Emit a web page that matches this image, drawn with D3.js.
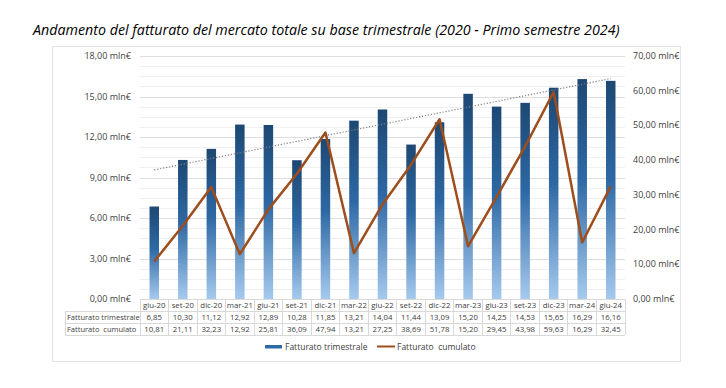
<!DOCTYPE html>
<html>
<head>
<meta charset="utf-8">
<script src="https://cdn.jsdelivr.net/npm/d3@7"></script>
<style>
  body { margin: 0; background: #fff; }
  svg { display: block; }
  text { font-family: "Open Sans", sans-serif; fill: #404040; }
</style>
</head>
<body>
<div id="chart"></div>
<script>
const categories = ['giu-20', 'set-20', 'dic-20', 'mar-21', 'giu-21', 'set-21', 'dic-21', 'mar-22', 'giu-22',
    'set-22', 'dic-22', 'mar-23', 'giu-23', 'set-23', 'dic-23', 'mar-24', 'giu-24']
const trimestrale = [6.85, 10.30, 11.12, 12.92, 12.89, 10.28, 11.85, 13.21, 14.04, 11.44, 13.09, 15.20, 14.25, 14.53, 15.65, 16.29, 16.16]
const cumulato = [10.81, 21.11, 32.23, 12.92, 25.81, 36.09, 47.94, 13.21, 27.25, 38.69, 51.78, 15.20, 29.45, 43.98, 59.63, 16.29, 32.45]
const leftTicks = [0, 3, 6, 9, 12, 15, 18]
const rightTicks = [0, 10, 20, 30, 40, 50, 60, 70]

const width = 726, height = 388
const margin = ({ top: 56, right: 101, bottom: 89, left: 140 })
const fmt = v => d3.format('.2f')(v).replace('.', ',')

const svg = d3.select('#chart').append('svg')
    .attr('width', width)
    .attr('height', height)

// title, sized to the width it has in the reference
const title = svg.append('text')
    .attr('x', 33).attr('y', 35)
    .attr('font-size', 14)
    .attr('font-style', 'italic')
    .style('fill', '#000')
    .text('Andamento del fatturato del mercato totale su base trimestrale (2020 - Primo semestre 2024)')
const tw = title.node().getComputedTextLength()
title.attr('font-size', 14 * 587 / tw)

// frame
svg.append('rect')
    .attr('x', 52.5).attr('y', 46.5)
    .attr('width', 628).attr('height', 315)
    .attr('fill', 'none')
    .attr('stroke', '#e3e3e3')

const x = d3.scaleBand()
    .domain(categories)
    .range([margin.left, width - margin.right])
const yL = d3.scaleLinear()
    .domain([0, 18])
    .range([height - margin.bottom, margin.top])
const yR = d3.scaleLinear()
    .domain([0, 70])
    .range([height - margin.bottom, margin.top])

// gridlines (major every 3, minor every 0.75)
svg.append('g')
    .selectAll('line')
    .data(d3.range(0.75, 18.01, 0.75))
    .join('line')
    .attr('x1', margin.left).attr('x2', width - margin.right)
    .attr('y1', d => Math.round(yL(d)) + 0.5).attr('y2', d => Math.round(yL(d)) + 0.5)
    .attr('stroke', d => d % 3 === 0 ? '#dedede' : '#efefef')

// axes labels
svg.append('g')
    .selectAll('text')
    .data(leftTicks)
    .join('text')
    .attr('x', 131).attr('y', d => yL(d) + 3)
    .attr('text-anchor', 'end')
    .attr('font-size', 9)
    .text(d => fmt(d) + ' mln€')
svg.append('g')
    .selectAll('text')
    .data(rightTicks)
    .join('text')
    .attr('x', 633).attr('y', d => yR(d) + 3)
    .attr('font-size', 9)
    .text(d => fmt(d) + ' mln€')

// bar gradient, dark at each bar's top
const grad = svg.append('defs').append('linearGradient')
    .attr('id', 'bargrad')
    .attr('x1', 0).attr('x2', 0)
    .attr('y1', 0).attr('y2', 1)
grad.append('stop').attr('offset', '0%').attr('stop-color', '#1d4873')
grad.append('stop').attr('offset', '45%').attr('stop-color', '#2d68a4')
grad.append('stop').attr('offset', '100%').attr('stop-color', '#a6caee')

const barW = 9.5
svg.append('g')
    .selectAll('rect')
    .data(trimestrale)
    .join('rect')
    .attr('x', (d, i) => x(categories[i]) + x.bandwidth() / 2 - barW / 2)
    .attr('y', d => yL(d))
    .attr('width', barW)
    .attr('height', d => yL(0) - yL(d))
    .attr('fill', 'url(#bargrad)')

// linear trend of trimestrale
const n = trimestrale.length
const mx = d3.mean(d3.range(n)), my = d3.mean(trimestrale)
const slope = d3.sum(trimestrale, (d, i) => (i - mx) * (d - my)) / d3.sum(d3.range(n), i => (i - mx) ** 2)
const icpt = my - slope * mx
svg.append('line')
    .attr('x1', x(categories[0]) + x.bandwidth() / 2)
    .attr('x2', x(categories[n - 1]) + x.bandwidth() / 2)
    .attr('y1', yL(icpt))
    .attr('y2', yL(icpt + slope * (n - 1)))
    .attr('stroke', '#7f7f7f')
    .attr('stroke-width', 1.2)
    .attr('stroke-dasharray', '1.2,1.8')

// cumulato line
const line = d3.line()
    .x((d, i) => x(categories[i]) + x.bandwidth() / 2)
    .y(d => yR(d))
svg.append('path')
    .datum(cumulato)
    .attr('fill', 'none')
    .attr('stroke', '#9e4d1c')
    .attr('stroke-width', 2.5)
    .attr('stroke-linejoin', 'round')
    .attr('d', line)

// data table
const y0 = yL(0)
const rowH = 12
const labelX = 65
const tbl = svg.append('g').attr('stroke', '#d9d9d9').attr('shape-rendering', 'crispEdges')
tbl.append('line').attr('x1', margin.left).attr('x2', width - margin.right).attr('y1', y0).attr('y2', y0)
;[1, 2, 3].forEach(r => {
    tbl.append('line').attr('x1', labelX).attr('x2', width - margin.right)
        .attr('y1', y0 + r * rowH).attr('y2', y0 + r * rowH)
})
tbl.selectAll('line.v')
    .data(categories.concat(['end']))
    .join('line')
    .attr('class', 'v')
    .attr('x1', d => d === 'end' ? width - margin.right : x(d))
    .attr('x2', d => d === 'end' ? width - margin.right : x(d))
    .attr('y1', y0).attr('y2', y0 + 3 * rowH)
tbl.append('line').attr('x1', labelX).attr('x2', labelX).attr('y1', y0 + rowH).attr('y2', y0 + 3 * rowH)

const rows = [null, trimestrale, cumulato]
const rowLabels = ['', 'Fatturato trimestrale', 'Fatturato  cumulato']
rows.forEach((vals, r) => {
    const ty = y0 + r * rowH + 8.8
    svg.append('g')
        .selectAll('text')
        .data(categories)
        .join('text')
        .attr('x', d => x(d) + x.bandwidth() / 2)
        .attr('y', ty)
        .attr('text-anchor', 'middle')
        .attr('font-size', 7.8)
        .text((d, i) => vals ? fmt(vals[i]) : d)
    if (r > 0) {
        svg.append('text')
            .attr('x', labelX + 2).attr('y', ty)
            .attr('font-size', 7.5)
            .style('white-space', 'pre')
            .text(rowLabels[r])
    }
})

// legend
const lg = svg.append('g')
lg.append('rect').attr('x', 265).attr('y', 345).attr('width', 17).attr('height', 3.5).attr('fill', '#2e6aa6')
lg.append('text').attr('x', 285).attr('y', 350).attr('font-size', 8.5).text('Fatturato trimestrale')
lg.append('line').attr('x1', 377).attr('x2', 395).attr('y1', 346.5).attr('y2', 346.5)
    .attr('stroke', '#9e4d1c').attr('stroke-width', 2)
lg.append('text').attr('x', 397).attr('y', 350).attr('font-size', 8.5)
    .style('white-space', 'pre').text('Fatturato  cumulato')
</script>
</body>
</html>
